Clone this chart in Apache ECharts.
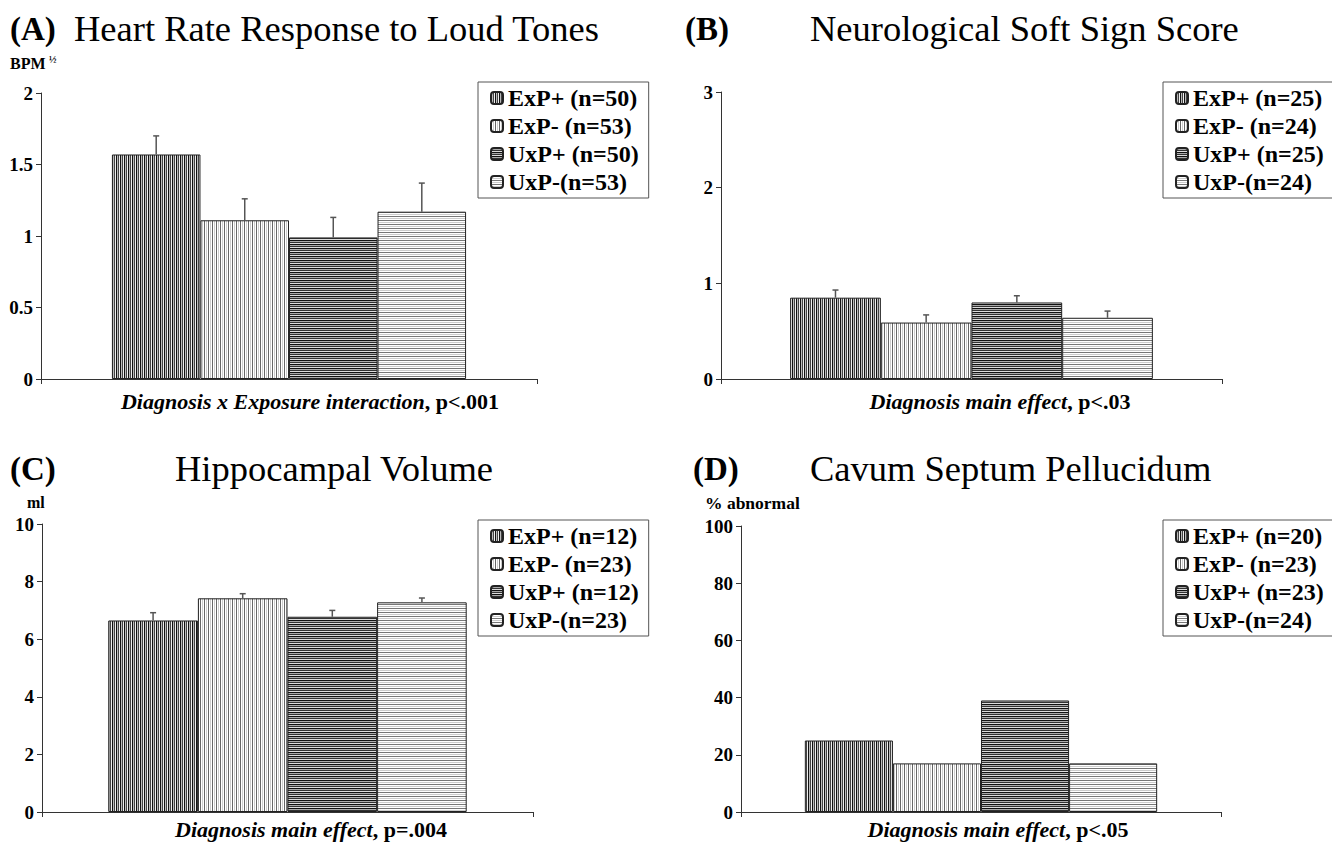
<!DOCTYPE html>
<html><head><meta charset="utf-8">
<script src="https://cdn.jsdelivr.net/npm/echarts@6/dist/echarts.min.js"></script>
<style>html,body{margin:0;padding:0;background:#fff}#c{width:1332px;height:842px}</style>
</head><body><div id="c"></div>
<script>
// ---- data ----
const groups = ['ExP+', 'ExP-', 'UxP+', 'UxP-'];
const legendA = ['ExP+ (n=50)', 'ExP- (n=53)', 'UxP+ (n=50)', 'UxP-(n=53)'];
const legendB = ['ExP+ (n=25)', 'ExP- (n=24)', 'UxP+ (n=25)', 'UxP-(n=24)'];
const legendC = ['ExP+ (n=12)', 'ExP- (n=23)', 'UxP+ (n=12)', 'UxP-(n=23)'];
const legendD = ['ExP+ (n=20)', 'ExP- (n=23)', 'UxP+ (n=23)', 'UxP-(n=24)'];
const valuesA = [1.57, 1.11, 0.99, 1.17];
const errA = [0.13, 0.15, 0.14, 0.20];
const valuesB = [0.85, 0.59, 0.80, 0.64];
const errB = [0.08, 0.08, 0.07, 0.07];
const valuesC = [6.65, 7.42, 6.78, 7.28];
const errC = [0.27, 0.16, 0.22, 0.15];
const valuesD = [25, 17, 39, 17];
const errD = null;
const ticksA = { min: 0, max: 2, interval: 0.5 };
const ticksB = { min: 0, max: 3, interval: 1 };
const ticksC = { min: 0, max: 10, interval: 2 };
const ticksD = { min: 0, max: 100, interval: 20 };
const titlesMain = ['Heart Rate Response to Loud Tones', 'Neurological Soft Sign Score', 'Hippocampal Volume', 'Cavum Septum Pellucidum'];
const titlesTag = ['(A)', '(B)', '(C)', '(D)'];
const unitLabels = ['BPM', '', 'ml', '% abnormal'];
const captionItalic = ['Diagnosis x Exposure interaction', 'Diagnosis main effect', 'Diagnosis main effect', 'Diagnosis main effect'];
const captionPlain = [', p<.001', ', p<.03', ', p=.004', ', p<.05'];

// ---- patterns ----
function stripe(colors, vertical) {
  const c = document.createElement('canvas');
  const n = colors.length;
  c.width = vertical ? n : 4; c.height = vertical ? 4 : n;
  const ctx = c.getContext('2d');
  colors.forEach((col, i) => {
    ctx.fillStyle = col;
    if (vertical) ctx.fillRect(i, 0, 1, 4); else ctx.fillRect(0, i, 4, 1);
  });
  return { image: c, repeat: 'repeat' };
}
const patterns = [
  stripe(['#111', '#bbb', '#444', '#eee'], true),
  stripe(['#666', '#fff', '#ccc', '#fff'], true),
  stripe(['#111', '#aaa', '#333', '#ddd'], false),
  stripe(['#777', '#fff', '#ccc', '#fff'], false)
];

const FONT = 'Liberation Serif';
const panels = [
  { grid: { left: 41, top: 93, width: 496, height: 286 }, vals: valuesA, err: errA, leg: legendA, ticks: ticksA, legPos: { left: 478, top: 82 }, gap: 0.286, cap: [310, 401] },
  { grid: { left: 721, top: 92, width: 501, height: 287 }, vals: valuesB, err: errB, leg: legendB, ticks: ticksB, legPos: { left: 1163, top: 82 }, gap: 0.276, cap: [1000, 401] },
  { grid: { left: 42, top: 524, width: 491, height: 288 }, vals: valuesC, err: errC, leg: legendC, ticks: ticksC, legPos: { left: 478, top: 520 }, gap: 0.27, cap: [311, 829] },
  { grid: { left: 741, top: 526, width: 480, height: 286 }, vals: valuesD, err: errD, leg: legendD, ticks: ticksD, legPos: { left: 1163, top: 520 }, gap: 0.266, cap: [998, 829] }
];

const grid = [], xAxis = [], yAxis = [], legend = [], series = [], graphic = [];
panels.forEach((p, pi) => {
  grid.push(Object.assign({ containLabel: false }, p.grid));
  xAxis.push({
    type: 'category', gridIndex: pi, data: [''],
    axisLine: { lineStyle: { color: '#333', width: 1 } },
    axisTick: { show: true, length: 5, lineStyle: { color: '#333' } },
    axisLabel: { show: false }
  });
  yAxis.push({
    type: 'value', gridIndex: pi, min: p.ticks.min, max: p.ticks.max, interval: p.ticks.interval,
    axisLine: { show: true, lineStyle: { color: '#333', width: 1 } },
    axisTick: { show: true, length: 5, lineStyle: { color: '#333' } },
    splitLine: { show: false },
    axisLabel: { fontFamily: FONT, fontSize: 19, fontWeight: 'bold', color: '#000', margin: 8 }
  });
  legend.push({
    data: p.leg, orient: 'vertical', left: p.legPos.left, top: p.legPos.top,
    padding: [4, 10, 4, 12], itemGap: 4, itemWidth: 12, itemHeight: 12,
    borderColor: '#555', borderWidth: 1, backgroundColor: '#fff',
    selectedMode: false,
    textStyle: { fontFamily: FONT, fontSize: 24, fontWeight: 'bold', color: '#000' }
  });
  groups.forEach((g, si) => {
    series.push({
      type: 'bar', name: p.leg[si], xAxisIndex: pi, yAxisIndex: pi,
      data: [p.vals[si]], barGap: '0%', barCategoryGap: (p.gap * 100) + '%',
      itemStyle: { color: patterns[si], borderColor: '#222', borderWidth: 1 },
      emphasis: { disabled: true }, animation: false
    });
  });
  if (p.err) {
    const g = p.gap;
    series.push({
      type: 'custom', xAxisIndex: pi, yAxisIndex: pi, z: 10, animation: false,
      data: p.vals.map((v, i) => [0, v, v + p.err[i], i]),
      renderItem: function (params, api) {
        const idx = api.value(3);
        const base = api.coord([0, api.value(1)]);
        const top = api.coord([0, api.value(2)]);
        const band = api.size([1, 0])[0];
        const gw = band * (1 - g), bw = gw / 4;
        const x = base[0] - gw / 2 + bw * (idx + 0.5);
        const st = { stroke: '#555', lineWidth: 1.5 };
        return { type: 'group', children: [
          { type: 'line', shape: { x1: x, y1: base[1], x2: x, y2: top[1] }, style: st },
          { type: 'line', shape: { x1: x - 3, y1: top[1], x2: x + 3, y2: top[1] }, style: st }
        ] };
      }
    });
  }
  graphic.push({
    type: 'text', x: p.cap[0], y: p.cap[1],
    style: {
      text: '{i|' + captionItalic[pi] + '}{b|' + captionPlain[pi] + '}',
      align: 'center', verticalAlign: 'middle',
      rich: {
        i: { fontFamily: FONT, fontSize: 22, fontWeight: 'bold', fontStyle: 'italic', fill: '#000' },
        b: { fontFamily: FONT, fontSize: 22, fontWeight: 'bold', fill: '#000' }
      }
    }
  });
});

const tagPos = [[10, 12], [685, 12], [10, 452], [693, 452]];
const mainPos = [[74, 10], [810, 10], [175, 450], [810, 450]];
const unitPos = [[10, 55], null, [27, 494], [705, 494]];
const unitSize = [16, 16, 16, 17.5];
titlesTag.forEach((t, i) => {
  graphic.push({ type: 'text', left: tagPos[i][0], top: tagPos[i][1],
    style: { text: t, font: 'bold 33px "' + FONT + '"', fill: '#000' } });
  graphic.push({ type: 'text', left: mainPos[i][0], top: mainPos[i][1],
    style: { text: titlesMain[i], font: '36.5px "' + FONT + '"', fill: '#000' } });
  if (unitPos[i]) {
    graphic.push({ type: 'text', left: unitPos[i][0], top: unitPos[i][1],
      style: { text: unitLabels[i], font: 'bold ' + unitSize[i] + 'px "' + FONT + '"', fill: '#000' } });
  }
});
graphic.push({ type: 'text', left: 49, top: 54, style: { text: '½', font: 'bold 10px "' + FONT + '"', fill: '#000' } });

const chart = echarts.init(document.getElementById('c'), null, { renderer: 'svg' });
chart.setOption({ animation: false, grid, xAxis, yAxis, legend, series, graphic });
</script></body></html>
